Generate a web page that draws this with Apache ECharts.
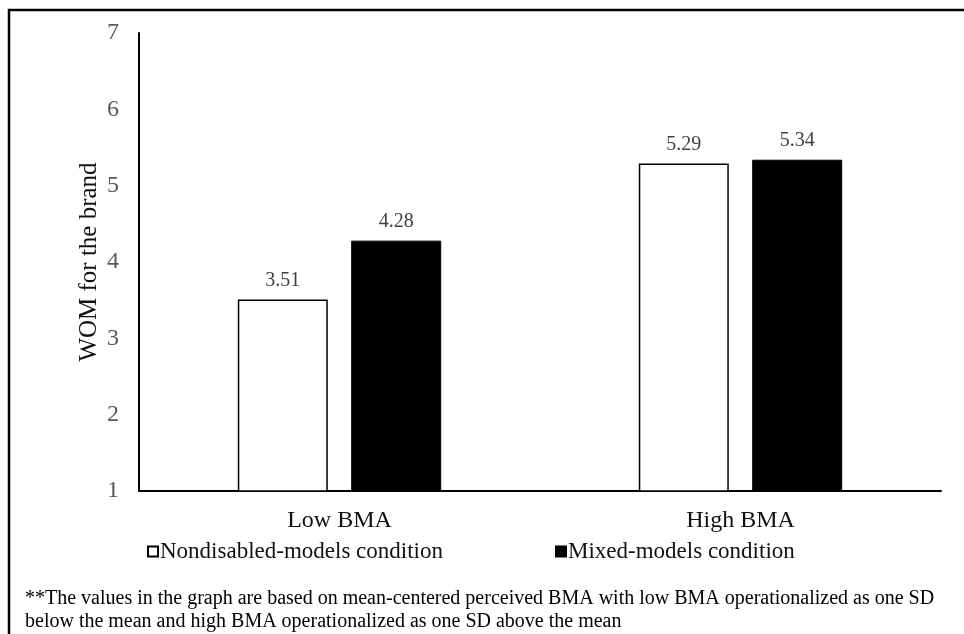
<!DOCTYPE html>
<html>
<head>
<meta charset="utf-8">
<script src="https://cdn.jsdelivr.net/npm/echarts@6/dist/echarts.min.js"></script>
<style>
html,body{margin:0;padding:0;background:#fff;}
#chart{width:964px;height:634px;}
</style>
</head>
<body>
<div id="chart"></div>
<script>
const categories = ['Low BMA', 'High BMA'];
const nondisabledValues = [3.51, 5.29];
const mixedValues = [4.28, 5.34];
const seriesNames = ['Nondisabled-models condition', 'Mixed-models condition'];
const yAxisName = 'WOM for the brand';
const footnoteLines = [
  '**The values in the graph are based on mean-centered perceived BMA with low BMA operationalized as one SD',
  'below the mean and high BMA operationalized as one SD above the mean'
];

const serif = '"Liberation Serif", "Times New Roman", serif';
const chart = echarts.init(document.getElementById('chart'));
const legendBase = {
  bottom: 66,
  itemWidth: 10,
  itemHeight: 10,
  icon: 'rect',
  textStyle: { color: '#111', fontSize: 23, fontFamily: serif, padding: [0, 0, 0, -3] }
};
chart.setOption({
  animation: false,
  backgroundColor: '#fff',
  textStyle: { fontFamily: serif },
  grid: { left: 139, right: 23, top: 33, bottom: 143, containLabel: false },
  xAxis: {
    type: 'category',
    data: categories,
    axisLine: { show: true, lineStyle: { color: '#000', width: 2 } },
    axisTick: { show: false },
    axisLabel: { color: '#111', fontSize: 24, fontFamily: serif, margin: 18 }
  },
  yAxis: {
    type: 'value',
    min: 1, max: 7, interval: 1,
    name: yAxisName,
    nameLocation: 'middle',
    nameGap: 37,
    nameMoveOverlap: false,
    nameTextStyle: { color: '#111', fontSize: 25, fontFamily: serif },
    axisLine: { show: true, lineStyle: { color: '#000', width: 2 } },
    axisTick: { show: false },
    splitLine: { show: false },
    axisLabel: { color: '#595959', fontSize: 24, fontFamily: serif, margin: 20 }
  },
  legend: [
    Object.assign({}, legendBase, { left: 142, data: [seriesNames[0]] }),
    Object.assign({}, legendBase, { left: 550, data: [seriesNames[1]] })
  ],
  series: [
    {
      name: seriesNames[0],
      type: 'bar',
      data: nondisabledValues,
      barWidth: 90,
      barGap: '26%',
      itemStyle: { color: '#fff', borderColor: '#000', borderWidth: 1.5 },
      label: { show: true, position: 'top', distance: 9, color: '#404040', fontSize: 20, fontFamily: serif, formatter: p => p.value.toFixed(2) }
    },
    {
      name: seriesNames[1],
      type: 'bar',
      data: mixedValues,
      barWidth: 90,
      itemStyle: { color: '#000', borderColor: '#000', borderWidth: 1 },
      label: { show: true, position: 'top', distance: 9, color: '#404040', fontSize: 20, fontFamily: serif, formatter: p => p.value.toFixed(2) }
    }
  ],
  graphic: [
    {
      type: 'rect',
      shape: { x: 9, y: 10, width: 1000, height: 700 },
      style: { fill: 'none', stroke: '#000', lineWidth: 2.5 },
      silent: true
    },
    {
      type: 'text',
      left: 25, top: 587,
      style: { text: footnoteLines.join('\n'), fill: '#000', font: '20px ' + serif, lineHeight: 23 }
    }
  ]
});
</script>
</body>
</html>
